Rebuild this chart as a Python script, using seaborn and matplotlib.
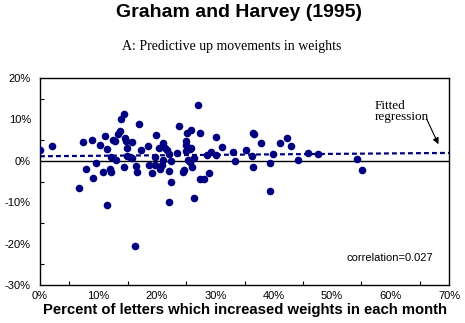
import numpy as np
import pandas as pd
import matplotlib
matplotlib.use("Agg")
import matplotlib.pyplot as plt
import seaborn as sns
from matplotlib.ticker import MultipleLocator, FuncFormatter

# ---- data (percent) ----
pct_letters = [0.0, 2.1, 6.7, 7.4, 7.9, 8.9, 9.1, 9.6, 10.3, 10.8, 11.2, 11.4, 11.5,
               12.0, 12.2, 12.2, 12.5, 12.9, 13.0, 13.4, 13.7, 13.9, 14.3, 14.3, 14.6,
               14.8, 14.9, 14.9, 15.4, 15.8, 15.8, 16.2, 16.4, 16.6, 17.0, 17.3, 18.4,
               18.7, 19.1, 19.6, 19.6, 19.8, 20.3, 20.5, 20.8, 21.1, 21.0, 21.4, 21.7,
               22.0, 22.0, 22.1, 22.5, 22.5, 23.4, 23.8,
               24.4, 24.6, 25.0, 25.0, 25.0, 25.2, 25.6, 25.8, 25.9, 25.3, 25.7, 26.0,
               26.3, 26.4, 27.0, 27.4, 27.4, 28.1, 28.5, 29.0, 29.2, 30.2, 30.2, 31.2,
               33.1, 33.4, 35.2, 36.2, 36.4, 36.6, 36.4, 37.9, 39.3, 39.3, 39.8, 41.0,
               42.3, 42.9, 44.1, 45.8, 47.6, 54.2, 55.1]
returns = [2.6, 3.5, -6.6, 4.5, -2.0, 5.0, -4.1, -0.6, 3.9, -2.7, 6.0, -10.6, 2.9,
           -2.0, -2.7, 0.8, 5.1, 4.8, 0.2, 6.5, 7.1, 10.0, 11.2, -1.6, 5.5,
           4.8, 3.1, 1.1, 0.8, 0.6, 4.5, -20.7, -1.3, -2.7, 8.8, 2.6, 3.5,
           -1.0, -2.9, 1.0, -1.0, 6.3, 3.1, -2.0, -1.1, 4.2, 0.2, 3.1, 2.6,
           1.6, -2.4, -10.0, 0.0, -5.1, 1.9, 8.4,
           -2.7, -2.2, 4.8, 2.4, 3.7, 6.6, 2.8, 3.1, 7.5, 0.3, -0.4, -1.6,
           0.7, -8.9, 13.4, 6.7, -4.4, -4.4, 1.4, -3.0, 2.2, 5.7, 1.4, 3.3,
           2.2, -0.1, 2.6, 1.1, 6.7, 6.5, -1.5, 4.3, -0.5, -7.3, 1.6, 4.3,
           5.5, 3.5, 0.2, 2.0, 1.6, 0.5, -2.2]
fit_x = [0, 70]
fit_y = [1.1, 1.9]
x_ticks = [0, 10, 20, 30, 40, 50, 60, 70]
y_ticks = [-30, -20, -10, 0, 10, 20]

sns.set_style("white")
plt.rcParams['font.family'] = ['Liberation Sans', 'DejaVu Sans']
plt.rcParams['text.color'] = 'black'
plt.rcParams['axes.labelcolor'] = 'black'

df = pd.DataFrame({"x": pct_letters, "y": returns})
fit_df = pd.DataFrame({"x": fit_x, "y": fit_y})

fig = plt.figure(figsize=(4.65, 3.23), dpi=100)
ax = fig.add_axes([40/465, 1-285/323, 409/465, (285-78)/323])

ax.axhline(0, color='black', lw=1.0, zorder=1)
sns.lineplot(data=fit_df, x="x", y="y", ax=ax, color='#000080', lw=1.6,
             dashes=False, zorder=2)
ax.lines[-1].set_dashes((2.2, 1.4))
sns.scatterplot(data=df, x="x", y="y", ax=ax, color='#000080', s=30,
                linewidth=0, zorder=3)

ax.set_xlim(0, 70)
ax.set_ylim(-30, 20)
ax.set_xticks(x_ticks)
ax.set_yticks(y_ticks)
ax.xaxis.set_minor_locator(MultipleLocator(5))
ax.yaxis.set_minor_locator(MultipleLocator(5))
fmt = FuncFormatter(lambda v, p: f"{int(round(v))}%")
ax.xaxis.set_major_formatter(fmt)
ax.yaxis.set_major_formatter(fmt)
ax.tick_params(axis='both', which='major', labelsize=8, colors='black', width=0.8)
ax.tick_params(axis='x', which='major', direction='in', length=4, pad=4)
ax.tick_params(axis='y', which='major', direction='inout', length=5, pad=4)
ax.tick_params(axis='both', which='minor', direction='in', length=3, width=0.8,
               bottom=True, left=True, colors='black')
for s in ax.spines.values():
    s.set_visible(True)
    s.set_color('black')
    s.set_linewidth(1.0)

ax.set_xlabel("Percent of letters which increased weights in each month",
              fontsize=10.7, fontweight='bold', labelpad=2, color='black')
ax.set_ylabel("")

fig.text(0.514, 0.96, "Graham and Harvey (1995)", ha='center', va='center',
         fontsize=14, fontweight='bold', color='black')
fig.text(0.499, 0.855, "A: Predictive up movements in weights", ha='center',
         va='center', fontsize=10, family=['Liberation Serif'], color='black')

ax.text(57.3, 14.7, "Fitted\nregression", ha='left', va='top', fontsize=9.5,
        family=['Liberation Serif'], linespacing=0.9, color='black')
ax.annotate("", xy=(68.2, 4.0), xytext=(66.2, 10.0),
            arrowprops=dict(arrowstyle='-|>', color='black', lw=0.8,
                            mutation_scale=9, shrinkA=0, shrinkB=0))
ax.text(67.3, -23.4, "correlation=0.027", ha='right', va='center', fontsize=8,
        color='black')

fig.savefig("out.png", dpi=100)
